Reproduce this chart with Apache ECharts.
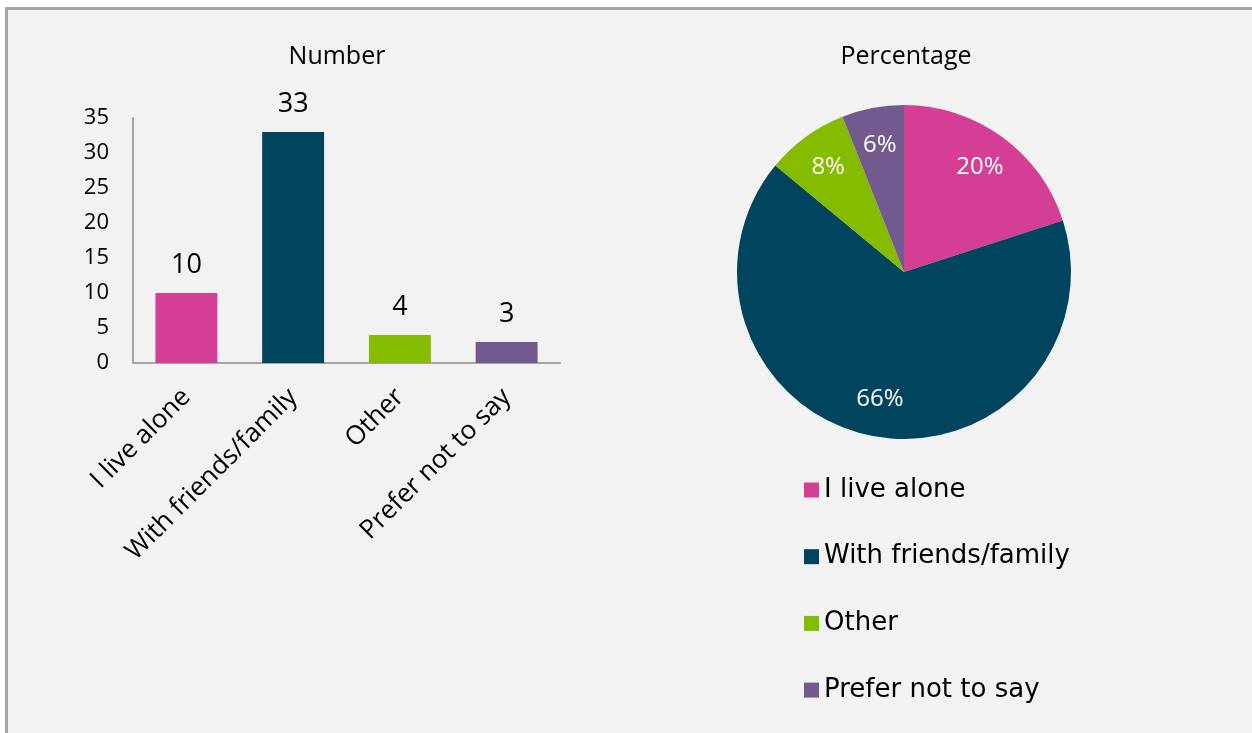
<!DOCTYPE html>
<html>
<head>
<meta charset="utf-8">
<script src="https://cdn.jsdelivr.net/npm/echarts@6/dist/echarts.min.js"></script>
<style>
  html, body { margin: 0; padding: 0; background: #ffffff; }
  #chart { width: 1252px; height: 733px; }
</style>
</head>
<body>
<div id="chart"></div>
<script>
// Living situation of respondents: counts and share
const categories = ['I live alone', 'With friends/family', 'Other', 'Prefer not to say'];
const counts = [10, 33, 4, 3];
const colors = ['#d43f95', '#00445e', '#85bc00', '#725a8f'];
const yTicks = { min: 0, max: 35, interval: 5 };

const labelFont = '"Open Sans", sans-serif';
const legendFont = '"DejaVu Sans", sans-serif';

const chart = echarts.init(document.getElementById('chart'), null, { renderer: 'canvas' });

const total = counts.reduce((a, b) => a + b, 0);
const pieData = categories.map((name, i) => ({ name, value: counts[i], itemStyle: { color: colors[i] } }));

chart.setOption({
  backgroundColor: '#ffffff',
  animation: false,
  graphic: [{
    type: 'rect',
    z: -10,
    shape: { x: 6.5, y: 8.5, width: 1400, height: 900 },
    style: { fill: '#f2f2f2', stroke: '#a6a6a6', lineWidth: 3 }
  }],
  title: [
    { text: 'Number', left: 337, top: 44, textAlign: 'center', padding: 0,
      textStyle: { fontFamily: labelFont, fontSize: 25, fontWeight: 'normal', color: '#000' } },
    { text: 'Percentage', left: 906, top: 44, textAlign: 'center', padding: 0,
      textStyle: { fontFamily: labelFont, fontSize: 25, fontWeight: 'normal', color: '#000' } }
  ],
  legend: {
    orient: 'vertical',
    left: 804,
    top: 475,
    padding: 0,
    itemWidth: 15,
    itemHeight: 15,
    itemGap: 36.7,
    icon: 'rect',
    data: categories,
    textStyle: { fontFamily: legendFont, fontSize: 26, color: '#000', lineHeight: 30 }
  },
  grid: { left: 133, right: 692, top: 118, bottom: 370, containLabel: false },
  xAxis: {
    type: 'category',
    data: categories,
    axisLine: { lineStyle: { color: '#a6a6a6', width: 2 } },
    axisTick: { show: false },
    axisLabel: { rotate: 45, interval: 0, margin: 30, fontFamily: labelFont, fontSize: 26, color: '#000' }
  },
  yAxis: {
    type: 'value',
    min: yTicks.min, max: yTicks.max, interval: yTicks.interval,
    axisLine: { show: true, lineStyle: { color: '#a6a6a6', width: 2 } },
    axisTick: { show: false },
    splitLine: { show: false },
    axisLabel: { margin: 24, fontFamily: labelFont, fontSize: 22, color: '#000' }
  },
  series: [
    {
      type: 'bar',
      barWidth: '58%',
      data: counts.map((v, i) => ({ value: v, itemStyle: { color: colors[i] } })),
      label: { show: true, position: 'top', distance: 14, fontFamily: labelFont, fontSize: 27, color: '#000' }
    },
    {
      type: 'pie',
      center: [904, 272],
      radius: [0, 167],
      startAngle: 90,
      clockwise: true,
      legendHoverLink: false,
      data: pieData,
      label: { show: false },
      labelLine: { show: false },
      itemStyle: { borderWidth: 0 }
    },
    {
      // carries the percentage labels at about three quarters of the radius
      type: 'pie',
      center: [904, 272],
      radius: [0, 252],
      startAngle: 90,
      clockwise: true,
      silent: true,
      legendHoverLink: false,
      data: pieData.map(d => ({ name: d.name, value: d.value, itemStyle: { color: 'rgba(0,0,0,0)' } })),
      label: {
        show: true, position: 'inside',
        formatter: p => Math.round(p.value / total * 100) + '%',
        fontFamily: labelFont, fontSize: 24, color: '#ffffff'
      },
      labelLine: { show: false },
      emphasis: { disabled: true }
    }
  ]
});
</script>
</body>
</html>
